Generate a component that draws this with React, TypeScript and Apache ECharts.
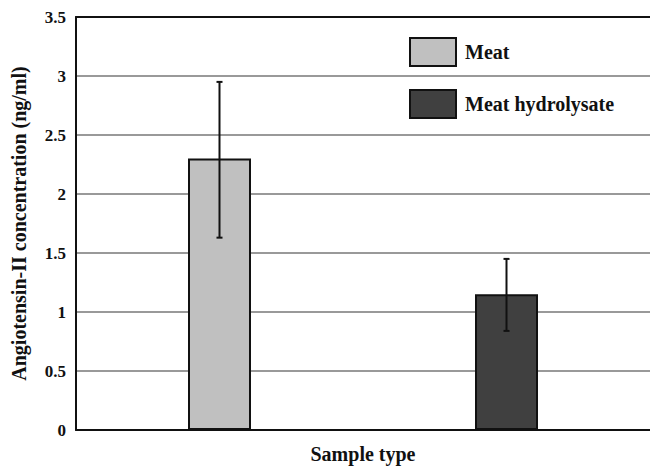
import React, { useEffect, useRef } from "react";
import * as echarts from "echarts";

const categories = ["Meat", "Meat hydrolysate"];
const meatValues = [2.3, "-"];
const hydrolysateValues = ["-", 1.15];
// [categoryIndex, lower, upper]
const errorBars = [
  [0, 1.63, 2.95],
  [1, 0.84, 1.45],
];
const yTicks = { min: 0, max: 3.5, interval: 0.5 };

const FONT = "Liberation Serif";

export default function App() {
  const ref = useRef<HTMLDivElement>(null);
  useEffect(() => {
    if (!ref.current) return;
    const chart = echarts.init(ref.current, undefined, { renderer: "svg" });
    chart.setOption({
      animation: false,
      backgroundColor: "#ffffff",
      textStyle: { fontFamily: FONT },
      grid: { left: 76, top: 17, width: 580, height: 420 },
      legend: {
        orient: "vertical",
        left: 409,
        top: 37,
        padding: 0,
        itemWidth: 46,
        itemHeight: 28,
        itemGap: 22,
        icon: "rect",
        selectedMode: false,
        textStyle: {
          fontFamily: FONT,
          fontWeight: "bold",
          fontSize: 20,
          color: "#111",
          padding: [0, 0, 0, 4],
        },
        data: ["Meat", "Meat hydrolysate"],
      },
      xAxis: [
        {
          type: "category",
          data: categories,
          name: "Sample type",
          nameLocation: "middle",
          nameGap: 14,
          nameTextStyle: {
            fontFamily: FONT,
            fontWeight: "bold",
            fontSize: 20,
            color: "#111",
            verticalAlign: "top",
          },
          axisLine: { lineStyle: { color: "#111", width: 2 } },
          axisTick: { show: false },
          axisLabel: { show: false },
        },
        {
          type: "category",
          data: categories,
          position: "top",
          axisLine: { lineStyle: { color: "#111", width: 2 } },
          axisTick: { show: false },
          axisLabel: { show: false },
        },
      ],
      yAxis: {
        type: "value",
        min: yTicks.min,
        max: yTicks.max,
        interval: yTicks.interval,
        name: "Angiotensin-II concentration (ng/ml)",
        nameLocation: "middle",
        nameGap: 47,
        nameTextStyle: {
          fontFamily: FONT,
          fontWeight: "bold",
          fontSize: 20,
          color: "#111",
        },
        axisLine: { show: true, lineStyle: { color: "#111", width: 2 } },
        axisTick: { show: false },
        axisLabel: {
          fontFamily: FONT,
          fontWeight: "bold",
          fontSize: 17,
          color: "#111",
          margin: 10,
        },
        splitLine: { lineStyle: { color: "#999", width: 2 } },
      },
      series: [
        {
          name: "Meat",
          type: "bar",
          data: meatValues,
          barWidth: 63,
          barGap: "-100%",
          itemStyle: { color: "#c0c0c0", borderColor: "#111", borderWidth: 2 },
        },
        {
          name: "Meat hydrolysate",
          type: "bar",
          data: hydrolysateValues,
          barWidth: 63,
          barGap: "-100%",
          itemStyle: { color: "#404040", borderColor: "#111", borderWidth: 2 },
        },
        {
          type: "custom",
          data: errorBars,
          z: 10,
          renderItem: (params: any, api: any) => {
            const x = api.value(0);
            const lo = api.coord([x, api.value(1)]);
            const hi = api.coord([x, api.value(2)]);
            const style = { stroke: "#111", lineWidth: 2 };
            const cap = 3;
            return {
              type: "group",
              children: [
                { type: "line", shape: { x1: lo[0], y1: lo[1], x2: hi[0], y2: hi[1] }, style },
                { type: "line", shape: { x1: hi[0] - cap, y1: hi[1], x2: hi[0] + cap, y2: hi[1] }, style },
                { type: "line", shape: { x1: lo[0] - cap, y1: lo[1], x2: lo[0] + cap, y2: lo[1] }, style },
              ],
            };
          },
        },
      ],
    });
    return () => chart.dispose();
  }, []);
  return (
    <div
      ref={ref}
      style={{ position: "fixed", left: 0, top: 0, width: 650, height: 469 }}
    />
  );
}
